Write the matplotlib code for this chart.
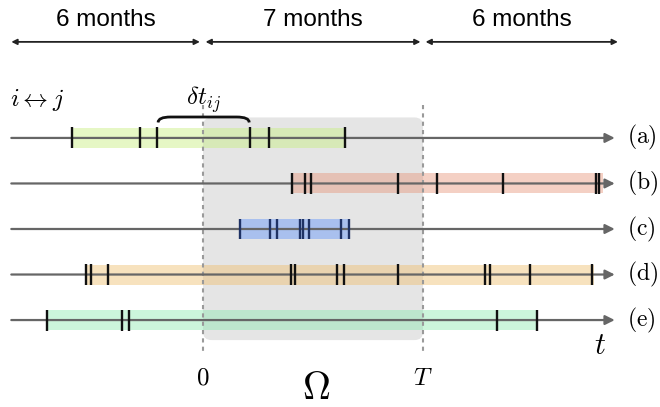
#!/usr/bin/env python3

import matplotlib.pyplot as plt
from matplotlib.patches import FancyBboxPatch, PathPatch
from matplotlib.path import Path

plt.rcParams['mathtext.fontset'] = 'cm'

# time in months, observation window Omega = [0, T]
T = 7
periods = [(-6.1, -0.1), (0.08, 6.92), (7.08, 13.2)]
periodLabels = ['6 months', '7 months', '6 months']

rowLabels = ['(a)', '(b)', '(c)', '(d)', '(e)']
events = [
	[-4.17, -2.0, -1.46, 1.50, 2.10, 4.52],
	[2.83, 3.26, 3.44, 6.20, 7.45, 9.55, 12.49, 12.61],
	[1.18, 2.13, 2.35, 3.08, 3.19, 3.37, 4.39, 4.65],
	[-3.73, -3.56, -3.01, 2.81, 2.94, 4.26, 4.49, 6.20, 8.96, 9.13, 10.40, 12.39],
	[-4.96, -2.59, -2.35, 9.35, 10.63],
]
bands = [(-4.17, 4.52), (2.83, 12.73), (1.18, 4.68), (-3.72, 12.43), (-4.96, 10.63)]
bandColors = ['#c8ef80', '#e7977c', '#6093f9', '#efbf6f', '#8ee9b1']
tickColors = ['#111111', '#111111', '#1f3264', '#111111', '#111111']

fig = plt.figure(figsize=(6.6, 4.07), dpi=100)
ax = fig.add_axes([0, 0, 1, 1])
ax.set_xlim(-6.46, 14.54)
ax.set_ylim(5.91, -3.03)
ax.axis('off')

# grey window
box = FancyBboxPatch((0, -0.45), T, 4.89, boxstyle='round,pad=0,rounding_size=0.27',
	mutation_aspect=0.69, fc='#e5e5e5', ec='none', zorder=0)
ax.add_patch(box)
ax.vlines([0, T], -0.73, 4.70, colors='#9a9a9a', linestyles=(0, (2, 2)), lw=1.5, zorder=2)

for i in range(len(rowLabels)):
	ax.barh(i, bands[i][1] - bands[i][0], left=bands[i][0], height=0.44,
		color=bandColors[i], alpha=0.45, zorder=1)
	ax.annotate('', xy=(13.1, i), xytext=(-6.1, i),
		arrowprops=dict(arrowstyle='-|>', color='#666666', lw=1.6,
			mutation_scale=14, shrinkA=0, shrinkB=0), zorder=2)
	ax.vlines(events[i], i - 0.23, i + 0.23, colors=tickColors[i], lw=1.7, zorder=3)
	ax.text(13.5, i, r'$\mathrm{' + rowLabels[i] + '}$', fontsize=17, ha='left', va='center')

# period arrows on top
for (a, b), lab in zip(periods, periodLabels):
	ax.annotate('', xy=(b, -2.11), xytext=(a, -2.11),
		arrowprops=dict(arrowstyle='<|-|>', color='#222222', lw=1.3,
			mutation_scale=8, shrinkA=0, shrinkB=0))
	ax.text((a + b) / 2, -2.58, lab, fontsize=17.5, family='Liberation Sans',
		ha='center', va='center')

# brace between two consecutive events of (a)
x0, x1 = events[0][2] + 0.03, events[0][3] - 0.03
yEnd, yTop, dx = -0.34, -0.46, 0.4
brace = Path([(x0, yEnd), (x0, yTop), (x0 + dx, yTop), (x1 - dx, yTop), (x1, yTop), (x1, yEnd)],
	[Path.MOVETO, Path.CURVE3, Path.CURVE3, Path.LINETO, Path.CURVE3, Path.CURVE3])
ax.add_patch(PathPatch(brace, fill=False, lw=2.0, ec='#111111', zorder=3))
ax.text((x0 + x1) / 2, -0.85, r'$\delta t_{ij}$', fontsize=18, ha='center', va='center')
ax.text(-6.15, -0.83, r'$i \leftrightarrow j$', fontsize=18, ha='left', va='center')

ax.text(0, 5.27, r'$0$', fontsize=18, ha='center', va='center')
ax.text(T, 5.27, r'$T$', fontsize=18, ha='center', va='center')
ax.text(3.6, 5.5, r'$\Omega$', fontsize=28, ha='center', va='center')
ax.text(12.63, 4.55, r'$t$', fontsize=22, ha='center', va='center')

fig.savefig('out.png', dpi=100)
